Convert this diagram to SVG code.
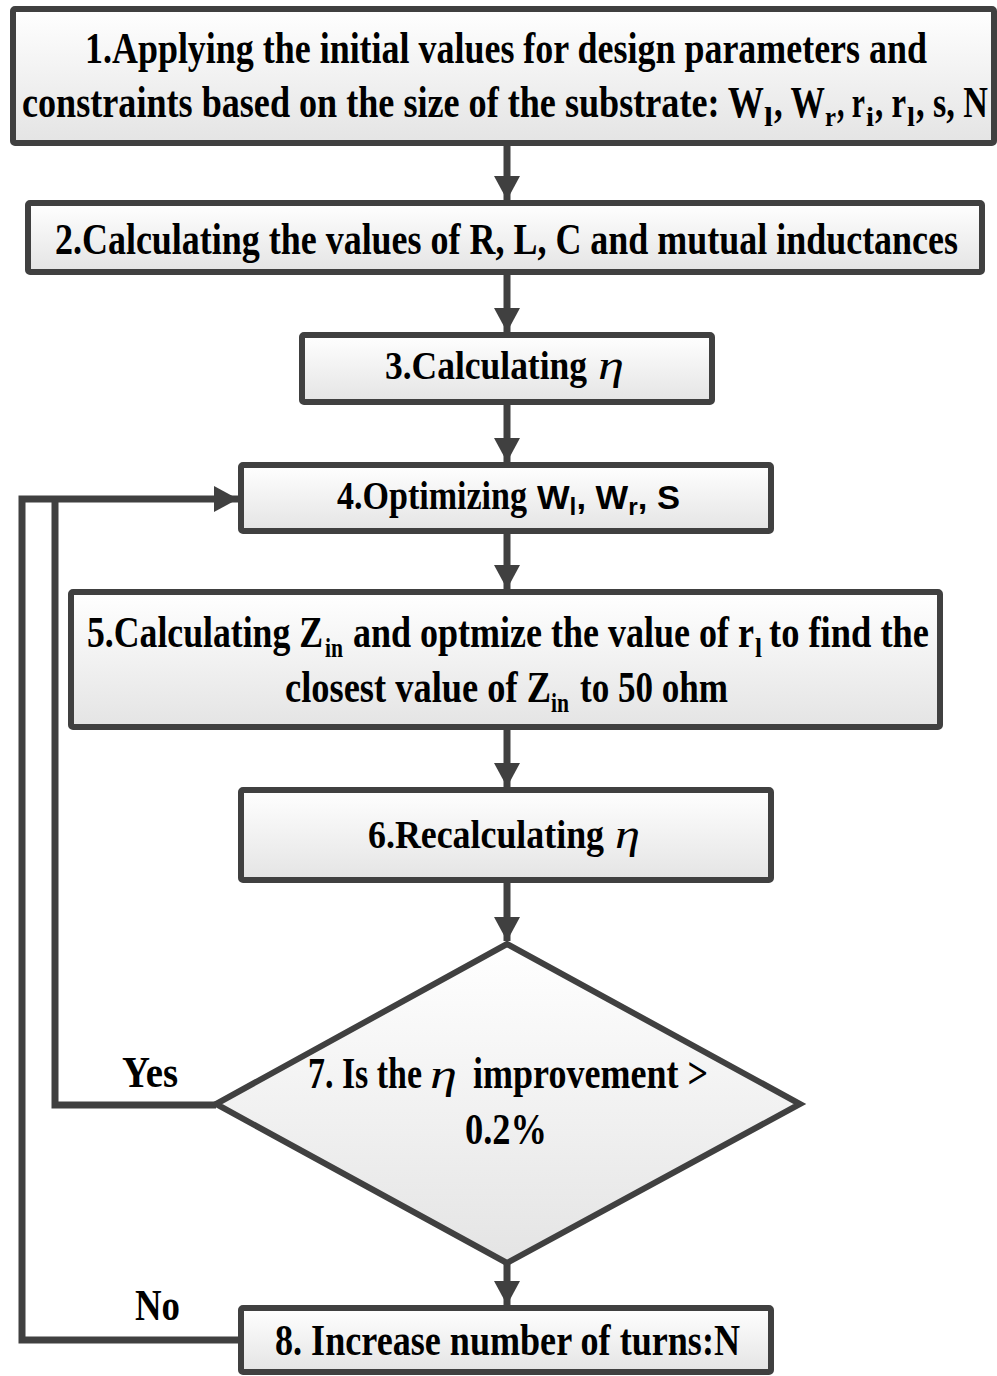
<svg xmlns="http://www.w3.org/2000/svg" width="997" height="1376" viewBox="0 0 997 1376">
<defs>
<linearGradient id="g" x1="0" y1="0" x2="0" y2="1">
<stop offset="0" stop-color="#ffffff"/>
<stop offset="1" stop-color="#e4e4e4"/>
</linearGradient>
<marker id="ah" markerUnits="userSpaceOnUse" markerWidth="24" markerHeight="26" viewBox="0 0 24 26" refX="24" refY="13" orient="auto">
<path d="M0,0 L24,13 L0,26 Z" fill="#404040"/>
</marker>
</defs>
<style>
.box{fill:url(#g);stroke:#404040;stroke-width:6}
.t{font-family:"Liberation Serif","Times New Roman",serif;font-weight:bold;font-size:44px;fill:#000}
.m{font-size:40px}
.s{font-size:28px}
.eta{font-family:"Liberation Serif","Times New Roman",serif;font-style:italic;font-size:42px;fill:#000}
.sans{font-family:"Liberation Sans",Arial,sans-serif;font-weight:bold;font-size:34px;fill:#000}
.ss{font-size:24px}
.c{fill:none;stroke:#404040;stroke-width:7}
</style>
<rect width="997" height="1376" fill="#ffffff"/>
<g id="connectors">
<line class="c" x1="507" y1="146" x2="507" y2="200" marker-end="url(#ah)"/>
<line class="c" x1="507" y1="275" x2="507" y2="332" marker-end="url(#ah)"/>
<line class="c" x1="507" y1="405" x2="507" y2="462" marker-end="url(#ah)"/>
<line class="c" x1="507" y1="533" x2="507" y2="589" marker-end="url(#ah)"/>
<line class="c" x1="507" y1="730" x2="507" y2="787" marker-end="url(#ah)"/>
<line class="c" x1="507" y1="883" x2="507" y2="941" marker-end="url(#ah)"/>
<line class="c" x1="507" y1="1263" x2="507" y2="1305" marker-end="url(#ah)"/>
<polyline class="c" points="216,1105 55,1105 55,499"/>
<polyline class="c" points="241,1340 22,1340 22,499 238,499" marker-end="url(#ah)"/>
</g>
<g id="n1">
<rect class="box" x="13" y="9" width="981" height="134" rx="2"/>
<text class="t" x="85" y="63" textLength="842" lengthAdjust="spacingAndGlyphs">1.Applying the initial values for design parameters and</text>
<text class="t" x="22" y="117" textLength="742" lengthAdjust="spacingAndGlyphs">constraints based on the size of the substrate: W</text>
<text class="t s" x="764" y="126" textLength="9" lengthAdjust="spacingAndGlyphs">l</text>
<text class="t" x="774" y="117" textLength="51" lengthAdjust="spacingAndGlyphs">, W</text>
<text class="t s" x="825" y="126" textLength="11" lengthAdjust="spacingAndGlyphs">r</text>
<text class="t" x="837" y="117" textLength="28" lengthAdjust="spacingAndGlyphs">, r</text>
<text class="t s" x="866" y="126" textLength="8" lengthAdjust="spacingAndGlyphs">i</text>
<text class="t" x="875" y="117" textLength="31" lengthAdjust="spacingAndGlyphs">, r</text>
<text class="t s" x="907" y="126" textLength="8" lengthAdjust="spacingAndGlyphs">l</text>
<text class="t" x="916" y="117" textLength="72" lengthAdjust="spacingAndGlyphs">, s, N</text>
</g>
<g id="n2">
<rect class="box" x="28" y="203" width="954" height="69" rx="2"/>
<text class="t" x="55" y="254" textLength="903" lengthAdjust="spacingAndGlyphs">2.Calculating the values of R, L, C and mutual inductances</text>
</g>
<g id="n3">
<rect class="box" x="302" y="335" width="410" height="67" rx="2"/>
<text class="t m" x="385" y="379" textLength="202" lengthAdjust="spacingAndGlyphs">3.Calculating</text>
<text class="eta" x="598" y="379" textLength="26" lengthAdjust="spacingAndGlyphs">η</text>
</g>
<g id="n4">
<rect class="box" x="241" y="465" width="530" height="66" rx="2"/>
<text class="t m" x="337" y="509" textLength="190" lengthAdjust="spacingAndGlyphs">4.Optimizing</text>
<text class="sans" x="537" y="509" textLength="143" lengthAdjust="spacingAndGlyphs">W<tspan class="ss" dy="6">l</tspan><tspan dy="-6">, W</tspan><tspan class="ss" dy="6">r</tspan><tspan dy="-6">, S</tspan></text>
</g>
<g id="n5">
<rect class="box" x="71" y="592" width="869" height="135" rx="2"/>
<text class="t" x="87" y="647" textLength="236" lengthAdjust="spacingAndGlyphs">5.Calculating Z</text>
<text class="t s" x="325" y="657" textLength="18" lengthAdjust="spacingAndGlyphs">in</text>
<text class="t" x="353" y="647" textLength="401" lengthAdjust="spacingAndGlyphs">and optmize the value of r</text>
<text class="t s" x="755" y="657" textLength="7" lengthAdjust="spacingAndGlyphs">l</text>
<text class="t" x="769" y="647" textLength="160" lengthAdjust="spacingAndGlyphs">to find the</text>
<text class="t" x="285" y="702" textLength="266" lengthAdjust="spacingAndGlyphs">closest value of Z</text>
<text class="t s" x="551" y="712" textLength="18" lengthAdjust="spacingAndGlyphs">in</text>
<text class="t" x="580" y="702" textLength="148" lengthAdjust="spacingAndGlyphs">to 50 ohm</text>
</g>
<g id="n6">
<rect class="box" x="241" y="790" width="530" height="90" rx="2"/>
<text class="t m" x="368" y="848" textLength="236" lengthAdjust="spacingAndGlyphs">6.Recalculating</text>
<text class="eta" x="615" y="848" textLength="25" lengthAdjust="spacingAndGlyphs">η</text>
</g>
<g id="n7">
<polygon class="box" points="507,944 800,1104 507,1263 216,1104"/>
<text class="t" x="308" y="1088" textLength="114" lengthAdjust="spacingAndGlyphs">7. Is the</text>
<text class="eta" x="430" y="1088" textLength="27" lengthAdjust="spacingAndGlyphs">η</text>
<text class="t" x="473" y="1088" textLength="235" lengthAdjust="spacingAndGlyphs">improvement &gt;</text>
<text class="t" x="465" y="1144" textLength="82" lengthAdjust="spacingAndGlyphs">0.2%</text>
</g>
<g id="n8">
<rect class="box" x="241" y="1308" width="530" height="64" rx="2"/>
<text class="t" x="275" y="1355" textLength="465" lengthAdjust="spacingAndGlyphs">8. Increase number of turns:N</text>
</g>
<g id="labels">
<text class="t" x="122" y="1087" textLength="56" lengthAdjust="spacingAndGlyphs">Yes</text>
<text class="t" x="135" y="1320" textLength="45" lengthAdjust="spacingAndGlyphs">No</text>
</g>
</svg>
